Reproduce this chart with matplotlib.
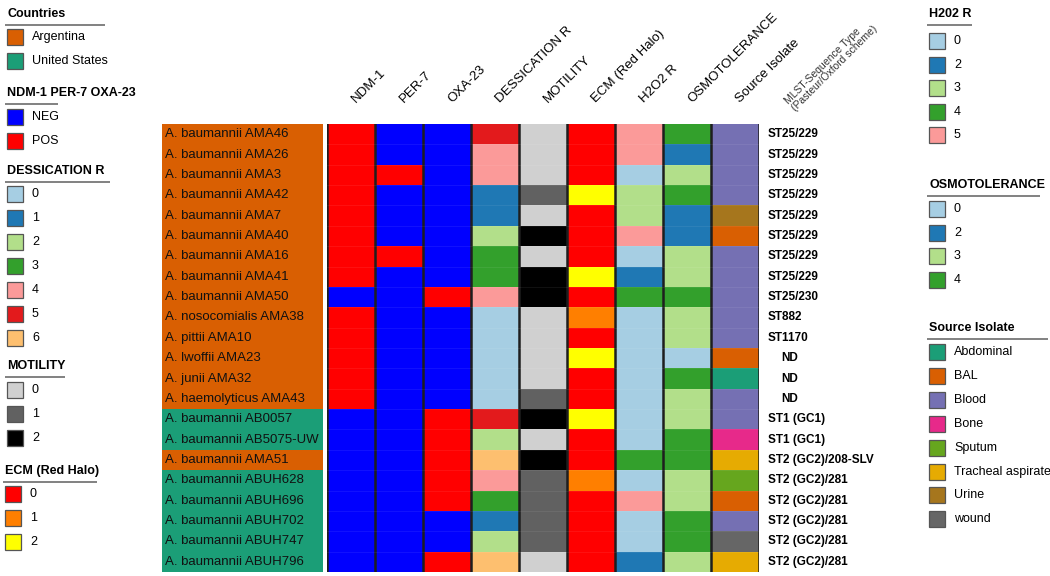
import matplotlib
matplotlib.use("Agg")
import matplotlib.pyplot as plt
import numpy as np
from matplotlib.patches import Rectangle
from matplotlib.colors import to_rgb

plt.rcParams['font.family'] = ['Liberation Sans', 'DejaVu Sans']

# ---------------- data ----------------
isolates = ["A. baumannii AMA46", "A. baumannii AMA26", "A. baumannii AMA3", "A. baumannii AMA42",
            "A. baumannii AMA7", "A. baumannii AMA40", "A. baumannii AMA16", "A. baumannii AMA41",
            "A. baumannii AMA50", "A. nosocomialis AMA38", "A. pittii AMA10", "A. lwoffii AMA23",
            "A. junii AMA32", "A. haemolyticus AMA43", "A. baumannii AB0057", "A. baumannii AB5075-UW",
            "A. baumannii AMA51", "A. baumannii ABUH628", "A. baumannii ABUH696", "A. baumannii ABUH702",
            "A. baumannii ABUH747", "A. baumannii ABUH796"]
country = ["Argentina"] * 14 + ["United States", "United States", "Argentina"] + ["United States"] * 5
ndm1 = ["POS"] * 8 + ["NEG"] + ["POS"] * 5 + ["NEG"] * 8
per7 = ["NEG", "NEG", "POS", "NEG", "NEG", "NEG", "POS"] + ["NEG"] * 15
oxa23 = ["NEG"] * 8 + ["POS"] + ["NEG"] * 5 + ["POS"] * 5 + ["NEG", "NEG", "POS"]
dessication = [5, 4, 4, 1, 1, 2, 3, 3, 4, 0, 0, 0, 0, 0, 5, 2, 6, 4, 3, 1, 2, 6]
motility = [0, 0, 0, 1, 0, 2, 0, 2, 2, 0, 0, 0, 0, 1, 2, 0, 2, 1, 1, 1, 1, 0]
ecm = [0, 0, 0, 2, 0, 0, 0, 2, 0, 1, 0, 2, 0, 0, 2, 0, 0, 1, 0, 0, 0, 0]
h2o2 = [5, 5, 0, 3, 3, 5, 0, 2, 4, 0, 0, 0, 0, 0, 0, 0, 4, 0, 5, 0, 0, 2]
osmo = [4, 2, 3, 4, 2, 2, 3, 3, 4, 3, 3, 0, 4, 3, 3, 4, 4, 3, 3, 4, 4, 3]
source = ["Blood", "Blood", "Blood", "Blood", "Urine", "BAL", "Blood", "Blood", "Blood", "Blood",
          "Blood", "BAL", "Abdominal", "Blood", "Blood", "Bone", "Tracheal aspirate", "Sputum",
          "BAL", "Blood", "wound", "Tracheal aspirate"]
mlst = ["ST25/229"] * 8 + ["ST25/230", "ST882", "ST1170", "ND", "ND", "ND", "ST1 (GC1)", "ST1 (GC1)",
        "ST2 (GC2)/208-SLV"] + ["ST2 (GC2)/281"] * 5

columns = ["NDM-1", "PER-7", "OXA-23", "DESSICATION R", "MOTILITY", "ECM (Red Halo)",
           "H2O2 R", "OSMOTOLERANCE", "Source Isolate"]
mlst_header = "MLST-Sequence Type\n(Pasteur/Oxford scheme)"

# ---------------- colour maps ----------------
country_col = {"Argentina": "#d95f02", "United States": "#1b9e77"}
gene_col = {"NEG": "#0000ff", "POS": "#ff0000"}
dess_col = {0: "#a6cee3", 1: "#1f78b4", 2: "#b2df8a", 3: "#33a02c", 4: "#fb9a99", 5: "#e31a1c", 6: "#fdbf6f"}
mot_col = {0: "#d0d0d0", 1: "#616161", 2: "#000000"}
ecm_col = {0: "#ff0000", 1: "#ff7f00", 2: "#ffff00"}
h2o2_col = {0: "#a6cee3", 2: "#1f78b4", 3: "#b2df8a", 4: "#33a02c", 5: "#fb9a99"}
osmo_col = {0: "#a6cee3", 2: "#1f78b4", 3: "#b2df8a", 4: "#33a02c"}
src_col = {"Abdominal": "#1b9e77", "BAL": "#d95f02", "Blood": "#7570b3", "Bone": "#e7298a",
           "Sputum": "#66a61e", "Tracheal aspirate": "#e6ab02", "Urine": "#a6761d", "wound": "#666666"}

col_data = [(ndm1, gene_col), (per7, gene_col), (oxa23, gene_col), (dessication, dess_col),
            (motility, mot_col), (ecm, ecm_col), (h2o2, h2o2_col), (osmo, osmo_col), (source, src_col)]

W, H = 1050, 576
fig = plt.figure(figsize=(W / 100, H / 100), dpi=100)

def fx(px):
    return px / W

def fy(py):
    return 1 - py / H

top_px, bot_px = 124, 572
nrow = len(isolates)

# ---------------- heatmap ----------------
hx0, hx1 = 327, 759
ax = fig.add_axes([fx(hx0), fy(bot_px), fx(hx1 - hx0), (bot_px - top_px) / H])
img = np.array([[to_rgb(cmap[vals[r]]) for (vals, cmap) in col_data] for r in range(nrow)])
ax.imshow(img, aspect="auto", interpolation="nearest", extent=(-0.5, len(columns) - 0.5, nrow - 0.5, -0.5))
for k in range(len(columns) + 1):
    ax.axvline(k - 0.5, color="#1e1e1e", lw=1.8)
for r in range(1, nrow):
    ax.axhline(r - 0.5, color="white", lw=0.4, alpha=0.12)
ax.set_xlim(-0.5, len(columns) - 0.5)
ax.set_ylim(nrow - 0.5, -0.5)
ax.axis("off")

# column headers
for k, name in enumerate(columns):
    ax.text(k + 0.15, -1.45, name, rotation=45, rotation_mode="anchor", ha="left", va="bottom",
            fontsize=9.5, color="black", clip_on=False)
ax.text(len(columns) - 0.5 + 0.8, -1.05, mlst_header, rotation=45, rotation_mode="anchor",
        ha="left", va="bottom", fontsize=7.5, color="#333333", clip_on=False, linespacing=1.0)

# MLST labels
for r, lab in enumerate(mlst):
    xoff = 9.18 if lab != "ND" else 9.47
    ax.text(xoff - 0.5, r, lab, ha="left", va="center", fontsize=8.5, fontweight="bold", clip_on=False)

# ---------------- label column ----------------
lx0, lx1 = 162, 323
lax = fig.add_axes([fx(lx0), fy(bot_px), fx(lx1 - lx0), (bot_px - top_px) / H])
cimg = np.array([[to_rgb(country_col[c])] for c in country])
lax.imshow(cimg, aspect="auto", interpolation="nearest", extent=(0, 1, nrow - 0.5, -0.5))
for r, lab in enumerate(isolates):
    lax.text(0.02, r, lab, ha="left", va="center", fontsize=9.5, color="#111111")
lax.set_xlim(0, 1)
lax.set_ylim(nrow - 0.5, -0.5)
lax.axis("off")

# ---------------- legends ----------------
lay = fig.add_axes([0, 0, 1, 1])
lay.set_xlim(0, W)
lay.set_ylim(H, 0)
lay.axis("off")

def legend_block(x, title_y, title, line_x1, labels, cmap, item_y0, step):
    lay.text(x, title_y, title, fontsize=9, fontweight="bold", ha="left", va="center")
    lay.plot([x - 2, line_x1], [title_y + 10.5, title_y + 10.5], color="#777777", lw=1.3,
             solid_capstyle="butt")
    for i, lab in enumerate(labels):
        y = item_y0 + i * step
        lay.add_patch(Rectangle((x, y - 8), 16, 16, facecolor=cmap[lab], edgecolor="#555555", lw=0.9))
        lay.text(x + 25, y, str(lab), fontsize=9, ha="left", va="center")

legend_block(7, 14, "Countries", 105, ["Argentina", "United States"], country_col, 37, 24)
legend_block(7, 93, "NDM-1 PER-7 OXA-23", 58, ["NEG", "POS"], gene_col, 117, 23.5)
legend_block(7, 171, "DESSICATION R", 110, list(dess_col.keys()), dess_col, 194, 24)
legend_block(7, 366, "MOTILITY", 65, list(mot_col.keys()), mot_col, 390, 24)
legend_block(5, 471, "ECM (Red Halo)", 97, list(ecm_col.keys()), ecm_col, 494, 24)
legend_block(929, 14, "H202 R", 972, list(h2o2_col.keys()), h2o2_col, 41, 23.6)
legend_block(929, 185, "OSMOTOLERANCE", 1040, list(osmo_col.keys()), osmo_col, 209, 23.7)
legend_block(929, 328, "Source Isolate", 1048, list(src_col.keys()), src_col, 352, 23.9)

fig.savefig("out.png", dpi=100)
